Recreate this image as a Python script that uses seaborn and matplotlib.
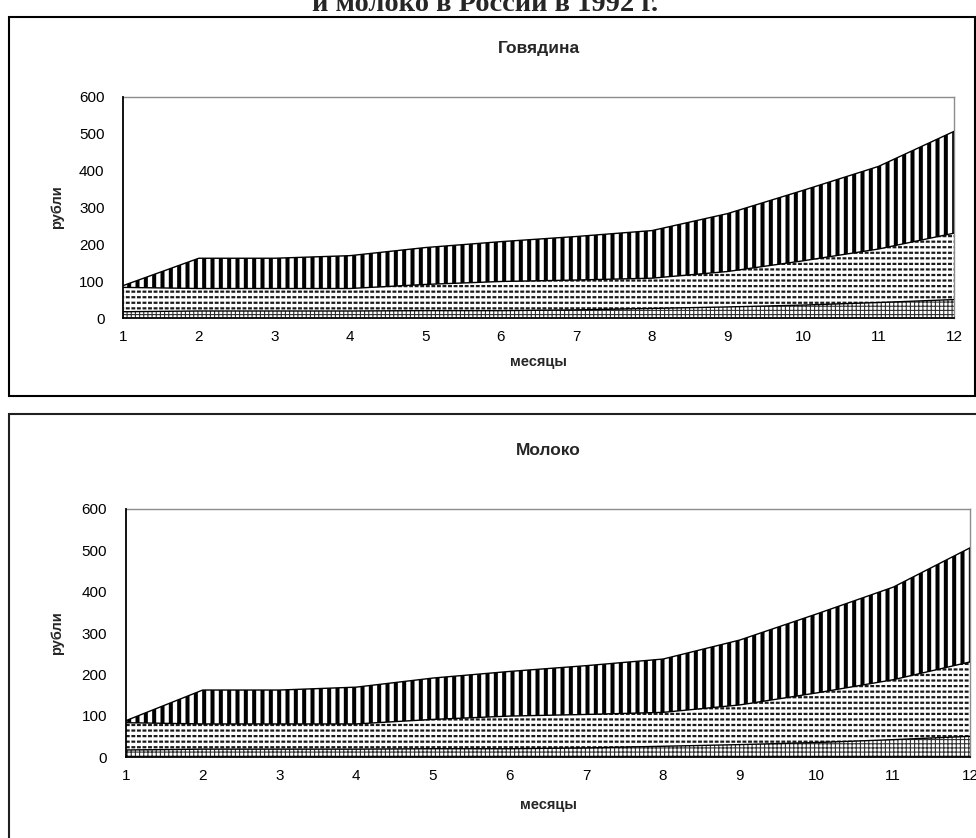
import numpy as np
import pandas as pd
import matplotlib
matplotlib.use("Agg")
import matplotlib.pyplot as plt
import seaborn as sns
from matplotlib.patches import Rectangle

# ---- data ----
months = [1, 2, 3, 4, 5, 6, 7, 8, 9, 10, 11, 12]
layer_bottom = [17, 19, 19, 19, 20, 20, 22, 26, 30, 35, 42, 50]
layer_middle = [66, 61, 61, 61, 71, 79, 81, 82, 96, 120, 145, 180]
layer_top = [5, 82, 82, 89, 100, 108, 118, 129, 157, 191, 224, 276]
y_ticks = [0, 100, 200, 300, 400, 500, 600]
panel_titles = ["Говядина", "Молоко"]
main_title = "и молоко в России в 1992 г."
x_label = "месяцы"
y_label = "рубли"

sns.set_theme(style="white")
plt.rcParams['font.family'] = ['Liberation Sans', 'DejaVu Sans']

W, H = 976, 838
fig = plt.figure(figsize=(W / 100, H / 100), dpi=100)


def fx(px):
    return px / W


def fy(py):
    return 1 - py / H


# panel frames
fig.patches.append(Rectangle((fx(8.5), fy(395.5)), fx(975) - fx(8.5), fy(17) - fy(395.5),
                             transform=fig.transFigure, fill=False, edgecolor='black',
                             linewidth=1.5, zorder=0))
fig.patches.append(Rectangle((fx(8.5), fy(900)), fx(1100) - fx(8.5), fy(414) - fy(900),
                             transform=fig.transFigure, fill=False, edgecolor='#202020',
                             linewidth=1.5, zorder=0))

fig.text(fx(485), fy(11), main_title, family=['Liberation Serif', 'DejaVu Serif'],
         fontweight='bold', fontsize=20.5, ha='center', va='baseline')

df = pd.DataFrame({"month": months, "b": layer_bottom, "m": layer_middle, "t": layer_top})
df["c1"] = df["b"]
df["c2"] = df["b"] + df["m"]
df["c3"] = df["c2"] + df["t"]

panels = [
    dict(l=123.3, r=954, t=96.7, b=318, ty=48, xly=362, title=panel_titles[0]),
    dict(l=126, r=970, t=509, b=757, ty=450, xly=805, title=panel_titles[1]),
]


def hatched(ax, lo, hi, hatch, col, lw, z):
    with plt.rc_context({'hatch.linewidth': lw}):
        coll = ax.fill_between(df["month"], lo, hi, facecolor='none', edgecolor=col,
                               hatch=hatch, linewidth=0, zorder=z)
        if hasattr(coll, 'set_hatch_linewidth'):
            coll.set_hatch_linewidth(lw)
    return coll


for p in panels:
    ax = fig.add_axes([fx(p['l']), fy(p['b']), fx(p['r']) - fx(p['l']), fy(p['t']) - fy(p['b'])])
    ax.set_facecolor('white')
    zero = np.zeros(len(df))
    # bottom layer: fine grey grid
    hatched(ax, zero, df["c1"], '++++', '#303030', 0.8, 1)
    # middle layer: dashed horizontal rows (lines broken by white verticals)
    hatched(ax, df["c1"], df["c2"], '---', '#1a1a1a', 1.6, 1)
    hatched(ax, df["c1"], df["c2"], '|||', 'white', 1.2, 1.5)
    # top layer: bold vertical stripes
    hatched(ax, df["c2"], df["c3"], '||', 'black', 2.9, 1)
    for c in ["c1", "c2", "c3"]:
        sns.lineplot(data=df, x="month", y=c, ax=ax, color='black', linewidth=1.0,
                     zorder=3, legend=False)
    ax.set_xlim(1, 12)
    ax.set_ylim(0, 600)
    ax.set_xticks(months)
    ax.set_yticks(y_ticks)
    ax.set_xticklabels([str(m) for m in months])
    ax.set_yticklabels([str(v) for v in y_ticks])
    ax.tick_params(axis='both', which='major', direction='inout', length=7, width=1,
                   color='black', labelsize=11, labelcolor='black')
    ax.tick_params(axis='y', pad=10)
    ax.tick_params(axis='x', pad=5)
    for s in ['left', 'bottom']:
        ax.spines[s].set_color('black')
        ax.spines[s].set_linewidth(1.3)
        ax.spines[s].set_zorder(4)
    for s in ['top', 'right']:
        ax.spines[s].set_color('#8c8c8c')
        ax.spines[s].set_linewidth(1.0)
        ax.spines[s].set_visible(True)
    ax.set_xlabel('')
    ax.set_ylabel('')
    fig.text(fx((p['l'] + p['r']) / 2), fy(p['ty']), p['title'], fontweight='bold',
             fontsize=12.5, ha='center', va='center')
    fig.text(fx((p['l'] + p['r']) / 2), fy(p['xly']), x_label, fontweight='bold',
             fontsize=10.5, ha='center', va='center')
    fig.text(fx(57), fy((p['t'] + p['b']) / 2), y_label, fontweight='bold',
             fontsize=10.5, ha='center', va='center', rotation=90)

fig.savefig("out.png", dpi=100)
